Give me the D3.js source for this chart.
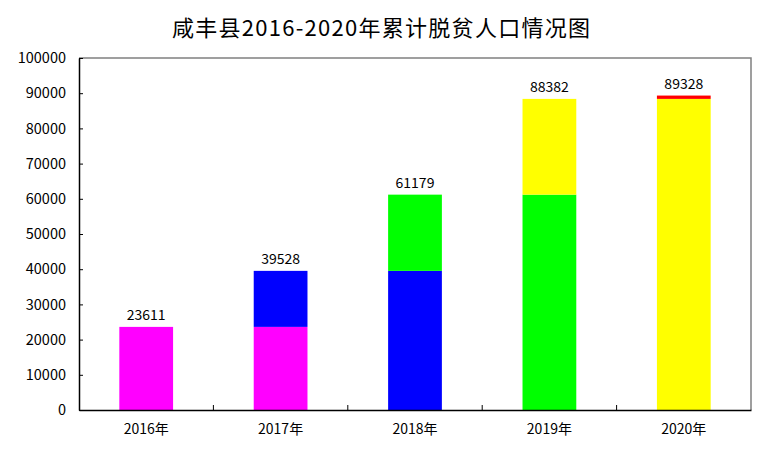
<!DOCTYPE html>
<html>
<head>
<meta charset="utf-8">
<script src="https://cdn.jsdelivr.net/npm/d3@7"></script>
<style>
  body { margin: 0; background: #fff; }
  text { font-family: "Noto Sans CJK SC", sans-serif; }
</style>
</head>
<body>
<div id="chart-area"></div>
<script>
var title = "咸丰县2016-2020年累计脱贫人口情况图";
var years = ["2016年", "2017年", "2018年", "2019年", "2020年"];
var totals = [23611, 39528, 61179, 88382, 89328];
var colors = ["#FF00FF", "#0000FF", "#00FF00", "#FFFF00", "#FF0000"];
var yTicks = [0, 10000, 20000, 30000, 40000, 50000, 60000, 70000, 80000, 90000, 100000];

var width = 760;
var height = 452;
var margin = { left: 79, right: 9, top: 58, bottom: 42 };

var svg = d3.select("#chart-area")
    .append("svg")
    .attr("width", width)
    .attr("height", height);

// two pieces per bar: last year's total and this year's increase
var segs = [];
years.forEach(function(y, i) {
    var prev = i > 0 ? totals[i - 1] : 0;
    if (i > 0) segs.push({ year: y, y0: 0, y1: prev, color: colors[i - 1] });
    segs.push({ year: y, y0: prev, y1: totals[i], color: colors[i] });
});

var x = d3.scaleBand()
    .domain(years)
    .range([margin.left, width - margin.right])
    .padding(0);

var y = d3.scaleLinear()
    .domain([0, 100000])
    .range([height - margin.bottom, margin.top]);

var barW = x.bandwidth() * 0.4;

// gray frame top/right
svg.append("path")
    .attr("d", "M" + margin.left + "," + y(100000) + "H" + (width - margin.right) + "V" + y(0))
    .attr("fill", "none")
    .attr("stroke", "#808080")
    .attr("stroke-width", 1.5);

svg.selectAll("rect.seg")
    .data(segs)
    .enter()
    .append("rect")
    .attr("class", "seg")
    .attr("x", function(d) { return x(d.year) + (x.bandwidth() - barW) / 2; })
    .attr("y", function(d) { return y(d.y1); })
    .attr("width", barW)
    .attr("height", function(d) { return y(d.y0) - y(d.y1); })
    .attr("fill", function(d) { return d.color; });

svg.selectAll("text.val")
    .data(totals)
    .enter()
    .append("text")
    .attr("class", "val")
    .attr("x", function(d, i) { return x(years[i]) + x.bandwidth() / 2; })
    .attr("y", function(d) { return y(d) - 7; })
    .attr("text-anchor", "middle")
    .attr("font-size", 14)
    .text(function(d) { return d; });

var yAxis = svg.append("g")
    .attr("transform", "translate(" + margin.left + ",0)")
    .call(d3.axisLeft(y).tickValues(yTicks).tickFormat(d3.format("d"))
        .tickSizeInner(-4).tickSizeOuter(0).tickPadding(13));
yAxis.select(".domain").attr("stroke", "#000").attr("stroke-width", 1.5);
yAxis.selectAll("text").attr("font-size", 14.5).attr("fill", "#000")
    .style("font-family", "'Noto Sans CJK SC', sans-serif");

var xAxis = svg.append("g")
    .attr("transform", "translate(0," + y(0) + ")")
    .call(d3.axisBottom(x).tickSize(0).tickPadding(14));
xAxis.select(".domain").attr("stroke", "#000").attr("stroke-width", 1.5);
xAxis.selectAll("text").attr("font-size", 14).attr("fill", "#000")
    .style("font-family", "'Noto Sans CJK SC', sans-serif");

// small category separators pointing up
svg.selectAll("line.sep")
    .data(years.slice(1))
    .enter()
    .append("line")
    .attr("class", "sep")
    .attr("x1", function(d) { return x(d); })
    .attr("x2", function(d) { return x(d); })
    .attr("y1", y(0))
    .attr("y2", y(0) - 5)
    .attr("stroke", "#000");

svg.append("text")
    .attr("x", 381)
    .attr("y", 36)
    .attr("text-anchor", "middle")
    .attr("font-size", 22)
    .attr("font-weight", 400)
    .attr("textLength", 418)
    .attr("lengthAdjust", "spacing")
    .text(title);
</script>
</body>
</html>
